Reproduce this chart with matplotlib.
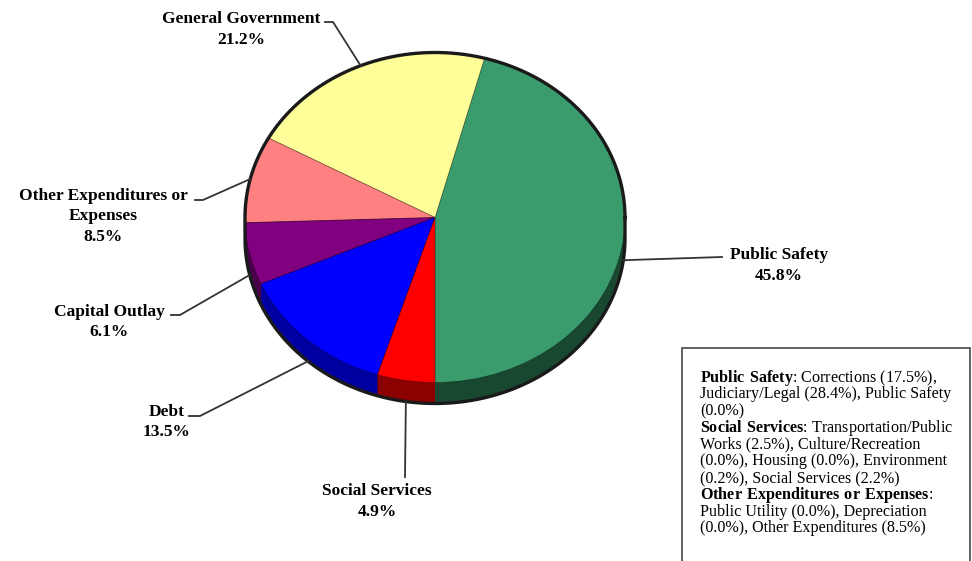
import numpy as np
import matplotlib
matplotlib.use("Agg")
import matplotlib.pyplot as plt
from matplotlib.patches import Rectangle

# slices, counter-clockwise from the bottom of the pie
categories = ["Public Safety", "General Government", "Other Expenditures or\nExpenses",
              "Capital Outlay", "Debt", "Social Services"]
shares = [45.8, 21.2, 8.5, 6.1, 13.5, 4.9]
top_colors = ["#3A9C6C", "#FFFF99", "#FF8080", "#800080", "#0000FF", "#FF0000"]
side_colors = ["#18482F", "#99995C", "#994C4C", "#4A004A", "#0000A0", "#8C0000"]

# label placement in image pixels (centre of first line) and leader stub end
label_pos = [(779, 255), (241, 19), (103, 196), (109, 312), (167, 412), (377, 491)]
stub_pts = [(722, 257), (333, 22), (203, 200), (180, 315), (200, 416), (405, 477)]
stub_text = [(722, 257), (325, 22), (195, 200), (171, 315), (189, 416), (405, 477)]

notes = [
    r"$\mathbf{Public\ Safety}$: Corrections (17.5%),",
    "Judiciary/Legal (28.4%), Public Safety",
    "(0.0%)",
    r"$\mathbf{Social\ Services}$: Transportation/Public",
    "Works (2.5%), Culture/Recreation",
    "(0.0%), Housing (0.0%), Environment",
    "(0.2%), Social Services (2.2%)",
    r"$\mathbf{Other\ Expenditures\ or\ Expenses}$:",
    "Public Utility (0.0%), Depreciation",
    "(0.0%), Other Expenditures (8.5%)",
]

plt.rcParams['mathtext.fontset'] = 'custom'
plt.rcParams['mathtext.rm'] = 'Liberation Serif'
plt.rcParams['mathtext.bf'] = 'Liberation Serif:bold'

W, H = 972, 561
cx, cy, rx, ry = 435, 217.5, 190, 165
depth = 21 / ry


def px(x, y):
    # image pixel -> pie data units
    return (x - cx) / rx, (cy - y) / ry


fig = plt.figure(figsize=(W / 100, H / 100), dpi=100)
ax = fig.add_axes([0, 0, 1, 1])

# side of the pie: stack darker copies downward
for s in np.linspace(depth, 0, 40):
    ax.pie(shares, colors=side_colors, startangle=-90, counterclock=True,
           center=(0, -s), radius=1, wedgeprops=dict(linewidth=0))
ax.pie(shares, colors=top_colors, startangle=-90, counterclock=True,
       center=(0, 0), radius=1,
       wedgeprops=dict(edgecolor=(0, 0, 0, 0.35), linewidth=0.6))

# outline of the whole cylinder
t1 = np.linspace(0, np.pi, 200)
t2 = np.linspace(np.pi, 2 * np.pi, 200)
ox = np.concatenate([np.cos(t1), [-1], np.cos(t2), [1, 1]])
oy = np.concatenate([np.sin(t1), [-depth], np.sin(t2) - depth, [-depth, 0]])
ax.plot(ox, oy, color="#1a1a1a", lw=2.4, solid_joinstyle="round")

ax.set_aspect('auto')
ax.set_xlim(-cx / rx, (W - cx) / rx)
ax.set_ylim((cy - H) / ry, cy / ry)
ax.axis('off')

# labels with leader lines
bounds = np.concatenate([[0], np.cumsum(shares)]) / 100 * 360 - 90
for i, cat in enumerate(categories):
    mid = np.deg2rad((bounds[i] + bounds[i + 1]) / 2)
    ex, ey = np.cos(mid), np.sin(mid)
    if ey < 0:
        ey -= depth
    sx, sy = px(*stub_pts[i])
    tx, ty = px(*stub_text[i])
    ax.plot([tx, sx, ex], [ty, sy, ey], color="#333333", lw=1.3)
    lines = cat.split("\n") + [f"{shares[i]:.1f}%"]
    x0, y0 = label_pos[i]
    for k, ln in enumerate(lines):
        lx, ly = px(x0, y0 + 20.5 * k)
        ax.text(lx, ly, ln, ha="center", va="center", fontsize=12.5,
                fontweight="bold", family="Liberation Serif", color="black")

# note box
bx0, by0 = px(682, 575)
bx1, by1 = px(970, 348)
ax.add_patch(Rectangle((bx0, by0), bx1 - bx0, by1 - by0, facecolor="white",
                       edgecolor="#555555", lw=1.3))
for k, ln in enumerate(notes):
    lx, ly = px(700, 377.5 + 16.75 * k)
    ax.text(lx, ly, ln, ha="left", va="center", fontsize=11.6,
            family="Liberation Serif", color="black")

fig.savefig("out.png", dpi=100)
